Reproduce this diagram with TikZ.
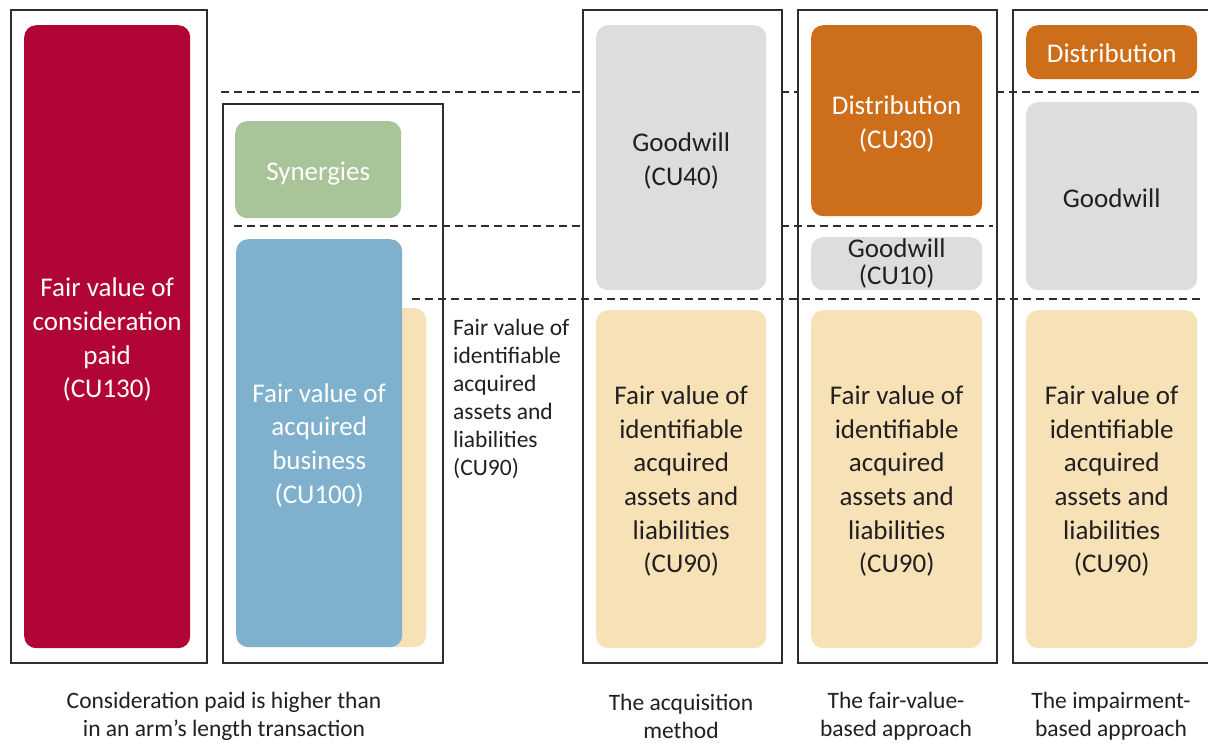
\documentclass[tikz,border=0pt]{standalone}
\usepackage{fontspec}
\setmainfont{Carlito}
\definecolor{cred}{HTML}{B10535}
\definecolor{cgreen}{HTML}{A9C499}
\definecolor{cblue}{HTML}{7FB0CE}
\definecolor{cyellow}{HTML}{F7E2B7}
\definecolor{cgray}{HTML}{DCDDDF}
\definecolor{corange}{HTML}{CD6E1A}
\definecolor{ctext}{HTML}{231F20}
\definecolor{cframe}{HTML}{2E2E2E}
\tikzset{
  frm/.style={draw=cframe, line width=2.4pt, anchor=north west, inner sep=0pt},
  blk/.style={rounded corners=12pt, inner sep=0pt, anchor=north west},
  tx/.style={inner sep=0pt, align=center, font=\fontsize{27}{33.7}\selectfont},
  wtxt/.style={tx, text=white},
  dtxt/.style={tx, text=ctext},
  guide/.style={draw=cframe, line width=2.8pt, dash pattern=on 8pt off 5pt},
  lbl/.style={text=ctext, align=center, font=\fontsize{23.5}{28}\selectfont, inner sep=0pt},
}
\begin{document}
\begin{tikzpicture}[x=1pt,y=-1pt]
\useasboundingbox[fill=white] (0,0) rectangle (1208,745);
% dashed guide lines
\coordinate (d1a) at (221,92);  \coordinate (d1b) at (582,92);
\coordinate (d1c) at (781,92);  \coordinate (d1d) at (797,92);
\coordinate (d1e) at (996,92);  \coordinate (d1f) at (1200,92);
\coordinate (d2a) at (234,226); \coordinate (d2b) at (582,226);
\coordinate (d2c) at (781,226); \coordinate (d2d) at (993,226);
\coordinate (d3a) at (412,299); \coordinate (d3b) at (1200,299);
\draw[guide] (d1a) -- (d1b);
\draw[guide] (d1c) -- (d1d);
\draw[guide] (d1e) -- (d1f);
\draw[guide] (d2a) -- (d2b);
\draw[guide] (d2c) -- (d2d);
\draw[guide] (d3a) -- (d3b);
% frames
\node[frm, minimum width=196pt, minimum height=653pt] (f1) at (10,9) {};
\node[frm, minimum width=220pt, minimum height=559pt] (f2) at (222,103) {};
\node[frm, minimum width=199pt, minimum height=653pt] (f3) at (582,9) {};
\node[frm, minimum width=199pt, minimum height=653pt] (f4) at (797,9) {};
\node[frm, minimum width=210pt, minimum height=653pt] (f5) at (1012,9) {};
% column 1
\node[blk, fill=cred, minimum width=166pt, minimum height=623pt] (consid) at (24,25) {};
\node[wtxt] (consid-t) at ([yshift=-3pt]consid.center) {Fair value of\\consideration\\paid\\(CU130)};
% column 2
\node[blk, fill=cyellow, minimum width=126pt, minimum height=339pt] (idback) at (300,308) {};
\node[blk, fill=cgreen, minimum width=166pt, minimum height=97pt] (syn) at (235,121) {};
\node[wtxt] (syn-t) at ([yshift=-4pt]syn.center) {Synergies};
\node[blk, fill=cblue, minimum width=166pt, minimum height=408pt] (bus) at (236,239) {};
\node[wtxt] (bus-t) at ([yshift=-2pt]bus.center) {Fair value of\\acquired\\business\\(CU100)};
\node[lbl, align=left, anchor=west] (idtxt) at (453,399)
  {Fair value of\\identifiable\\acquired\\assets and\\liabilities\\(CU90)};
% column 3
\node[blk, fill=cgray, minimum width=170pt, minimum height=265pt] (gw3) at (596,25) {};
\node[dtxt] (gw3-t) at ([yshift=-3pt]gw3.center) {Goodwill\\(CU40)};
\node[blk, fill=cyellow, minimum width=170pt, minimum height=338pt] (id3) at (596,310) {};
\node[dtxt] (id3-t) at ([yshift=-2pt]id3.center)
  {Fair value of\\identifiable\\acquired\\assets and\\liabilities\\(CU90)};
% column 4
\node[blk, fill=corange, minimum width=171pt, minimum height=191pt] (dist4) at (811,25) {};
\node[wtxt] (dist4-t) at ([yshift=-3pt]dist4.center) {Distribution\\(CU30)};
\node[blk, fill=cgray, minimum width=171pt, minimum height=53pt] (gw4) at (811,237) {};
\node[dtxt, font=\fontsize{27}{27}\selectfont] (gw4-t) at ([yshift=0pt]gw4.center) {Goodwill\\(CU10)};
\node[blk, fill=cyellow, minimum width=171pt, minimum height=338pt] (id4) at (811,310) {};
\node[dtxt] (id4-t) at ([yshift=-2pt]id4.center)
  {Fair value of\\identifiable\\acquired\\assets and\\liabilities\\(CU90)};
% column 5
\node[blk, fill=corange, minimum width=171pt, minimum height=54pt] (dist5) at (1026,25) {};
\node[wtxt] (dist5-t) at ([yshift=-1pt]dist5.center) {Distribution};
\node[blk, fill=cgray, minimum width=171pt, minimum height=188pt] (gw5) at (1026,102) {};
\node[dtxt] (gw5-t) at ([yshift=-2pt]gw5.center) {Goodwill};
\node[blk, fill=cyellow, minimum width=171pt, minimum height=338pt] (id5) at (1026,310) {};
\node[dtxt] (id5-t) at ([yshift=-2pt]id5.center)
  {Fair value of\\identifiable\\acquired\\assets and\\liabilities\\(CU90)};
% captions
\node[lbl] (cap1) at (224,716) {Consideration paid is higher than\\in an arm’s length transaction};
\node[lbl] (cap3) at (681,716) {The acquisition\\method};
\node[lbl] (cap4) at (896,716) {The fair-value-\\based approach};
\node[lbl] (cap5) at (1111,716) {The impairment-\\based approach};
\end{tikzpicture}
\end{document}
